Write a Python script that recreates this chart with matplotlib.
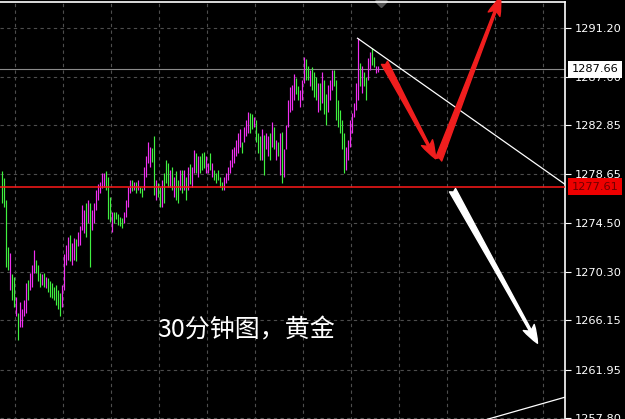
"""Gold 30-minute bar chart (MT4 style) with trendlines and arrows."""

from matplotlib import pyplot
import numpy

# Bar data: high, low and direction (m = up / magenta, g = down / green).
highs = [
    1278.9, 1278.3, 1276.5, 1272.4, 1271.9, 1270.1, 1269.9, 1268.2, 1266.8, 1267.7,
    1267.1, 1267.9, 1269.4, 1269.6, 1270.2, 1270.9, 1272.2, 1271.3, 1270.9, 1270.2,
    1270.1, 1270.2, 1269.9, 1269.8, 1269.5, 1269.4, 1269.0, 1269.2, 1268.8, 1268.5,
    1269.2, 1271.8, 1272.6, 1273.3, 1273.5, 1272.8, 1273.2, 1273.1, 1273.7, 1274.2,
    1276.0, 1275.6, 1276.2, 1276.5, 1276.2, 1275.6, 1276.2, 1277.3, 1277.8, 1278.0,
    1278.8, 1278.8, 1278.9, 1278.4, 1276.7, 1275.4, 1275.4, 1275.4, 1275.3, 1275.0,
    1274.9, 1275.4, 1276.5, 1277.6, 1278.2, 1278.2, 1278.0, 1278.0, 1278.2, 1277.6,
    1277.5, 1279.3, 1280.2, 1281.4, 1281.0, 1280.9, 1281.9, 1278.2, 1277.9, 1277.6,
    1278.2, 1278.8, 1279.9, 1279.6, 1279.0, 1279.3, 1278.4, 1278.9, 1278.2, 1279.0,
    1279.0, 1279.0, 1278.4, 1279.3, 1279.5, 1279.3, 1280.7, 1280.5, 1280.2, 1280.2,
    1280.5, 1280.6, 1280.2, 1279.6, 1280.5, 1279.6, 1279.0, 1278.8, 1279.0, 1278.4,
    1278.0, 1278.4, 1278.8, 1279.3, 1279.9, 1280.8, 1281.0, 1281.6, 1282.2, 1282.5,
    1281.4, 1282.7, 1283.3, 1284.0, 1283.9, 1283.8, 1283.6, 1283.3, 1282.2, 1281.9,
    1282.5, 1282.0, 1282.2, 1281.9, 1282.2, 1283.1, 1282.7, 1281.6, 1281.4, 1282.2,
    1282.3, 1280.8, 1282.9, 1285.0, 1286.1, 1286.3, 1287.2, 1286.9, 1286.2, 1285.9,
    1286.7, 1288.7, 1288.5, 1287.9, 1287.6, 1287.8, 1287.4, 1287.0, 1286.5, 1286.5,
    1287.4, 1286.7, 1285.5, 1286.3, 1286.7, 1287.6, 1287.6, 1286.7, 1285.0, 1284.2,
    1283.3, 1282.2, 1281.0, 1281.6, 1283.3, 1283.9, 1284.8, 1286.5, 1290.3, 1288.2,
    1287.9, 1287.4, 1287.0, 1288.6, 1289.1, 1289.5, 1288.7, 1287.9, 1287.9,
]
lows = [
    1276.2, 1275.9, 1270.7, 1270.5, 1268.8, 1267.9, 1267.3, 1266.5, 1264.5, 1265.6,
    1265.6, 1266.5, 1266.8, 1267.9, 1268.8, 1269.0, 1270.2, 1270.2, 1269.5, 1269.0,
    1269.2, 1269.0, 1268.9, 1268.6, 1268.2, 1268.1, 1267.9, 1267.5, 1267.1, 1266.5,
    1267.3, 1268.8, 1270.9, 1271.3, 1271.2, 1270.9, 1271.3, 1271.2, 1272.5, 1272.6,
    1273.9, 1273.6, 1273.3, 1274.5, 1270.7, 1273.9, 1274.5, 1275.6, 1276.5, 1277.1,
    1277.5, 1277.6, 1277.3, 1274.8, 1274.6, 1273.7, 1274.5, 1274.8, 1274.3, 1274.2,
    1274.1, 1274.5, 1275.0, 1275.9, 1277.1, 1277.2, 1277.3, 1277.1, 1277.3, 1277.1,
    1276.7, 1277.3, 1278.4, 1279.6, 1279.3, 1279.7, 1276.9, 1276.5, 1276.7, 1275.9,
    1275.9, 1276.2, 1277.9, 1277.6, 1277.6, 1277.3, 1276.7, 1276.5, 1276.2, 1277.3,
    1277.1, 1277.3, 1276.5, 1277.3, 1277.8, 1277.6, 1278.8, 1278.8, 1278.4, 1278.8,
    1279.0, 1279.2, 1278.8, 1278.8, 1279.0, 1278.4, 1278.2, 1277.9, 1278.2, 1277.6,
    1277.3, 1277.3, 1277.9, 1278.2, 1278.8, 1279.3, 1279.6, 1280.2, 1280.5, 1281.0,
    1280.5, 1281.4, 1281.9, 1282.2, 1282.2, 1282.5, 1282.7, 1281.4, 1280.5, 1279.9,
    1279.9, 1278.6, 1280.8, 1280.2, 1279.9, 1281.0, 1280.8, 1279.9, 1280.2, 1278.6,
    1277.9, 1278.4, 1280.8, 1282.7, 1284.0, 1284.2, 1285.0, 1285.5, 1285.0, 1284.4,
    1285.0, 1286.5, 1286.7, 1286.7, 1286.2, 1285.9, 1285.3, 1285.0, 1284.0, 1284.2,
    1284.8, 1283.8, 1282.9, 1284.0, 1285.0, 1285.9, 1286.2, 1283.3, 1282.7, 1282.2,
    1280.8, 1278.8, 1279.0, 1279.9, 1281.0, 1282.2, 1283.6, 1284.2, 1285.0, 1286.2,
    1285.6, 1286.2, 1285.0, 1286.7, 1287.6, 1288.0, 1287.8, 1287.3, 1287.4,
]
directions = (
    'ggggmggmgm' 'mmmgmmmggg' 'mgmggggggg' 'mmmmgmmgmm' 'mmgmgmmmmm'
    'mmgggmgggg' 'gmmmmgmgmg' 'gmmmmggmgg' 'mgggmgmggm' 'gmgmgmmgmg'
    'ggmmgmgggg' 'gmmmmmmmmm' 'gmmmggmggg' 'mgmmgmgmgm' 'gmmmmmmggm'
    'mmggmgggmg' 'mggmmmgggg' 'ggmmmmmmmg' 'mggmmggmm'
)

price_ticks = [1257.80, 1261.95, 1266.15, 1270.30, 1274.50,
               1278.65, 1282.85, 1287.00, 1291.20]
ask_price = 1287.66
bid_price = 1277.61

# Trendlines and arrows (bar index, price).
trend_start, trend_end = (178, 1290.3), (281.75, 1277.8)
support_p1, support_p2 = (243, 1257.7), (282, 1259.6)
red_down = ((191.5, 1288.2), (217.0, 1280.0))
red_up = ((218.5, 1279.9), (249.5, 1293.8))
white_down = ((225.5, 1277.3), (268.0, 1264.2))
title = '30分钟图，黄金'

pyplot.rcParams['font.family'] = ['Noto Sans CJK SC', 'DejaVu Sans']

fig = pyplot.figure(figsize=(6.25, 4.19), dpi=100, facecolor='black')
ax = fig.add_axes([0.0, 1 - 430 / 419, 565 / 625, 428 / 419])
ax.set_facecolor('black')

# Bars: 2 px apart, centred on pixel centres so each is a crisp 1 px line.
x = numpy.arange(len(highs))
colors = ['#f030f0' if d == 'm' else '#40f040' for d in directions]
ax.vlines(x, lows, highs, colors=colors, linewidth=0.85, zorder=3)

ax.set_xlim(-0.75, 281.75)
ax.set_ylim(1256.78, 1293.40)

# Grid.
ax.set_xticks(6.85 + 24 * numpy.arange(12))
ax.set_yticks(price_ticks)
ax.set_yticklabels([f'{v:.2f}' for v in price_ticks])
ax.grid(True, color='#4d4d4d', linestyle=(0, (3, 3)), linewidth=0.8)
ax.yaxis.tick_right()
ax.tick_params(axis='x', bottom=False, labelbottom=False)
ax.tick_params(axis='y', colors='white', labelcolor='white', length=4,
               width=0.8, pad=3, labelsize=8.2)
for ticklabel in ax.get_yticklabels():
    ticklabel.set_family('DejaVu Sans')
for side in ['top', 'right']:
    ax.spines[side].set_color('white')
    ax.spines[side].set_linewidth(1.2)
for side in ['left', 'bottom']:
    ax.spines[side].set_visible(False)

# Price lines.
ax.axhline(ask_price, color='#8a8a8a', linewidth=0.8, zorder=2)
ax.axhline(bid_price, color='#ff1a1a', linewidth=1.1, zorder=4)
trans = ax.get_yaxis_transform()
ax.text(1.012, ask_price, f'{ask_price:.2f}', transform=trans, fontsize=8.2,
        family='DejaVu Sans', color='black', ha='left', va='center',
        bbox=dict(boxstyle='square,pad=0.3', facecolor='white',
                  edgecolor='none'), clip_on=False, zorder=10)
ax.text(1.012, bid_price, f'{bid_price:.2f}', transform=trans, fontsize=8.2,
        family='DejaVu Sans', color='#700000', ha='left', va='center',
        bbox=dict(boxstyle='square,pad=0.3', facecolor='#ee0000',
                  edgecolor='none'), clip_on=False, zorder=10)

# Trendlines.
ax.plot([trend_start[0], trend_end[0]], [trend_start[1], trend_end[1]],
        color='white', linewidth=0.9, zorder=5)
ax.axline(support_p1, support_p2, color='white', linewidth=0.9, zorder=5)
ax.plot(189.5, 1293.5, marker='D', color='#555555', markersize=6,
        clip_on=False, zorder=2)

# Arrows.
for (start, end), color in [(red_down, '#f01e1e'), (red_up, '#f01e1e'),
                            (white_down, 'white')]:
    ax.annotate('', xy=end, xytext=start, annotation_clip=False,
                arrowprops=dict(arrowstyle='fancy,head_length=1.3,'
                                'head_width=0.9,tail_width=0.5',
                                color=color, mutation_scale=10,
                                shrinkA=0, shrinkB=0), zorder=6)

ax.text(78, 1265.3, title, color='white', fontsize=18, ha='left',
        va='center', zorder=7)

fig.savefig('out.png', dpi=100, facecolor='black')
